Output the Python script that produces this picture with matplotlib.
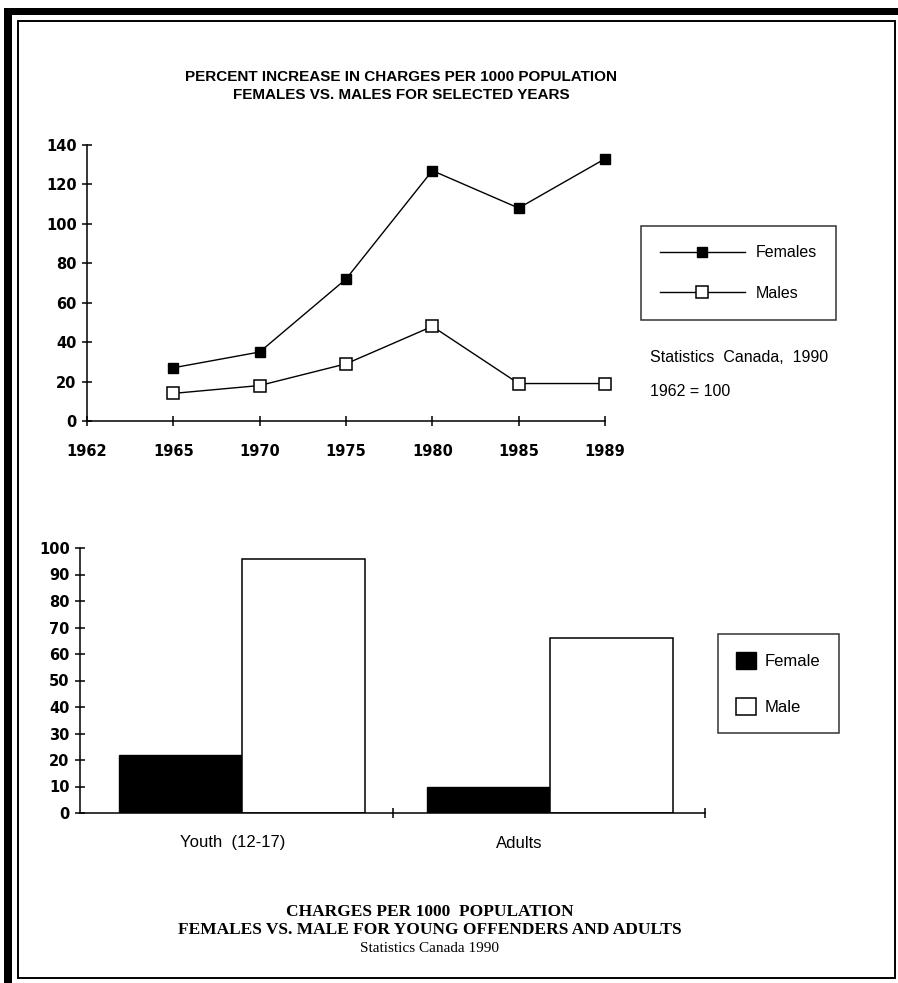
import matplotlib
matplotlib.use("Agg")
import matplotlib.pyplot as plt
from matplotlib.lines import Line2D
from matplotlib.patches import Patch, Rectangle
import numpy as np

# ---- data ----
years = ["1962", "1965", "1970", "1975", "1980", "1985", "1989"]
females_pct = [None, 27, 35, 72, 127, 108, 133]
males_pct = [None, 14, 18, 29, 48, 19, 19]

groups = ["Youth  (12-17)", "Adults"]
female_charges = [22, 10]
male_charges = [96, 66]

W, H = 898, 983
fig = plt.figure(figsize=(W / 100, H / 100), dpi=100)
plt.rcParams['font.family'] = ['Liberation Sans', 'DejaVu Sans']
SERIF = ['Liberation Serif', 'DejaVu Serif']
TICKFONT = dict(family='DejaVu Sans', weight='bold', size=10.5)


def fig_box(x0, y0, x1, y1):
    # pixel box (top-left origin) -> figure fraction rect
    return [x0 / W, 1 - y1 / H, (x1 - x0) / W, (y1 - y0) / H]


# ---- frame ----
fig.patches.append(Rectangle((4 / W, 0), 8 / W, 1 - 8 / H, transform=fig.transFigure,
                             color='black', lw=0))
fig.patches.append(Rectangle((4 / W, 1 - 15 / H), 1, 7 / H, transform=fig.transFigure,
                             color='black', lw=0))
fig.patches.append(Rectangle((18 / W, 1 - 978 / H), (895 - 18) / W, (978 - 21) / H,
                             transform=fig.transFigure, fill=False, ec='black', lw=1.4))

# ---- top line chart ----
ax1 = fig.add_axes(fig_box(87, 145, 605, 421))
xs = np.arange(len(years))
fx = [x for x, v in zip(xs, females_pct) if v is not None]
fy = [v for v in females_pct if v is not None]
mx = [x for x, v in zip(xs, males_pct) if v is not None]
my = [v for v in males_pct if v is not None]
ax1.plot(fx, fy, color='black', lw=1, marker='s', ms=7, mfc='black', mec='black',
         clip_on=False)
ax1.plot(mx, my, color='black', lw=1, marker='s', ms=8, mfc='white', mec='black',
         mew=1.1, clip_on=False)
ax1.set_xlim(0, len(years) - 1)
ax1.set_ylim(0, 140)
ax1.set_xticks(xs)
ax1.set_xticklabels(years)
ax1.set_yticks(range(0, 141, 20))
for s in ['top', 'right']:
    ax1.spines[s].set_visible(False)
for s in ['left', 'bottom']:
    ax1.spines[s].set_linewidth(1.1)
ax1.tick_params(axis='both', direction='inout', length=7, width=1.1)
ax1.tick_params(axis='x', pad=13)
ax1.tick_params(axis='y', pad=4)
for lab in ax1.get_xticklabels() + ax1.get_yticklabels():
    lab.set(**TICKFONT)
ax1.patch.set_alpha(0)

top_handles = [
    Line2D([], [], color='black', lw=1, marker='s', ms=7, mfc='black', mec='black'),
    Line2D([], [], color='black', lw=1, marker='s', ms=8, mfc='white', mec='black', mew=1.1),
]
leg1 = fig.legend(top_handles, ["Females", "Males"], loc='upper left',
                  bbox_to_anchor=(641 / W, 1 - 226 / H), borderaxespad=0,
                  fontsize=11.5, handlelength=5.3, handletextpad=0.7,
                  labelspacing=1.6, borderpad=1.2, fancybox=False, frameon=True)
leg1.get_frame().set_edgecolor('black')
leg1.get_frame().set_linewidth(1.1)

fig.text(650 / W, 1 - 357 / H, "Statistics  Canada,  1990", fontsize=11.5,
         va='center', ha='left')
fig.text(650 / W, 1 - 391 / H, "1962 = 100", fontsize=11.5, va='center', ha='left')

fig.text(401 / W, 1 - 77 / H, "PERCENT INCREASE IN CHARGES PER 1000 POPULATION",
         fontsize=11, fontweight='bold', ha='center', va='center')
fig.text(401 / W, 1 - 95 / H, "FEMALES VS. MALES FOR SELECTED YEARS",
         fontsize=11, fontweight='bold', ha='center', va='center')

# ---- bottom bar chart ----
ax2 = fig.add_axes(fig_box(80, 548, 705, 813))
gx = np.arange(len(groups))
bw = 0.40
ax2.bar(gx - bw / 2, female_charges, bw, color='black', edgecolor='black', lw=1)
ax2.bar(gx + bw / 2, male_charges, bw, color='white', edgecolor='black', lw=1.1)
ax2.set_xlim(-0.526, 1.503)
ax2.set_ylim(0, 100)
ax2.set_yticks(range(0, 101, 10))
ax2.set_xticks([0.49, 1.503])
ax2.set_xticklabels([])
for s in ['top', 'right']:
    ax2.spines[s].set_visible(False)
for s in ['left', 'bottom']:
    ax2.spines[s].set_linewidth(1.1)
ax2.tick_params(axis='both', direction='inout', length=7, width=1.1)
ax2.tick_params(axis='y', pad=4)
for lab in ax2.get_yticklabels():
    lab.set(**TICKFONT)
ax2.patch.set_alpha(0)

label_offsets = [-0.03, -0.1]
for x, name, off in zip(gx, groups, label_offsets):
    ax2.text(x + off, -30 / 265 * 100, name, fontsize=12, ha='center', va='center',
             transform=ax2.transData, clip_on=False)

bot_handles = [Patch(facecolor='black', edgecolor='black'),
               Patch(facecolor='white', edgecolor='black', lw=1.1)]
leg2 = fig.legend(bot_handles, ["Female", "Male"], loc='upper left',
                  bbox_to_anchor=(718 / W, 1 - 634 / H), borderaxespad=0,
                  fontsize=12, handlelength=1.2, handleheight=1.2,
                  handletextpad=0.5, labelspacing=1.7, borderpad=1.1,
                  fancybox=False, frameon=True)
leg2.get_frame().set_edgecolor('black')
leg2.get_frame().set_linewidth(1.1)

fig.text(430 / W, 1 - 912 / H, "CHARGES PER 1000  POPULATION", fontsize=12.5,
         fontweight='bold', family=SERIF, ha='center', va='center')
fig.text(430 / W, 1 - 930 / H, "FEMALES VS. MALE FOR YOUNG OFFENDERS AND ADULTS",
         fontsize=12.5, fontweight='bold', family=SERIF, ha='center', va='center')
fig.text(430 / W, 1 - 948 / H, "Statistics Canada 1990", fontsize=11,
         family=SERIF, ha='center', va='center')

fig.savefig("out.png", dpi=100, facecolor='white')
